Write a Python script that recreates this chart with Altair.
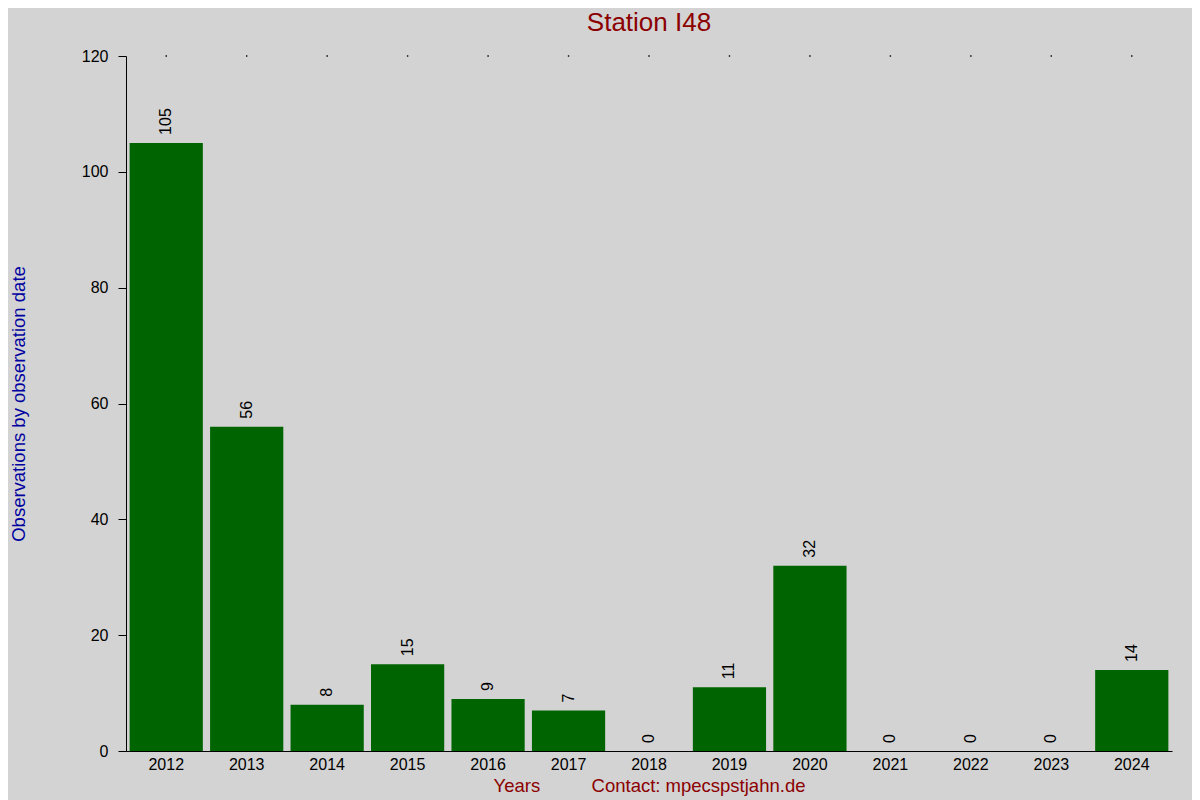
import altair as alt
import pandas as pd

years = ["2012", "2013", "2014", "2015", "2016", "2017", "2018", "2019", "2020", "2021", "2022", "2023", "2024"]
counts = [105, 56, 8, 15, 9, 7, 0, 11, 32, 0, 0, 0, 14]
y_ticks = [0, 20, 40, 60, 80, 100, 120]

df = pd.DataFrame({"year": years, "count": counts})
df["top"] = 120

FONT = "Liberation Sans"
x_title = "Years" + "\u00a0" * 10 + "Contact: mpecspstjahn.de"

x_enc = alt.X("year:N", sort=years,
              scale=alt.Scale(paddingInner=0.09, paddingOuter=0.045),
              axis=alt.Axis(title=x_title, titleColor="#8B0000", titleFont=FONT,
                            titleFontSize=18.5, titleFontWeight="normal", titlePadding=4,
                            labelAngle=0, labelFont=FONT, labelFontSize=16, labelColor="black",
                            labelPadding=5, ticks=False, domainColor="black", domainWidth=1))
y_scale = alt.Scale(domain=[0, 120], nice=False)

bars = alt.Chart(df).mark_bar(color="#006400").encode(
    x=x_enc,
    y=alt.Y("count:Q", scale=y_scale,
            axis=alt.Axis(values=y_ticks, title="Observations by observation date",
                          titleColor="#0000A0", titleFont=FONT, titleFontSize=18.5,
                          titleFontWeight="normal", titleX=-98,
                          labelFont=FONT, labelFontSize=16, labelColor="black",
                          labelPadding=10, tickSize=8, tickColor="black",
                          domainColor="black", grid=False)),
)

labels = alt.Chart(df).mark_text(angle=270, align="left", baseline="middle",
                                 dx=8, font=FONT, fontSize=16, color="black").encode(
    x=alt.X("year:N", sort=years),
    y=alt.Y("count:Q", scale=y_scale),
    text="count:Q",
)

dots = alt.Chart(df).mark_square(size=2, color="black", opacity=1).encode(
    x=alt.X("year:N", sort=years),
    y=alt.Y("top:Q", scale=y_scale),
)

chart = alt.layer(bars, labels, dots).properties(
    width=1046, height=695,
    title=alt.TitleParams("Station I48", color="#8B0000", font=FONT, fontSize=26,
                          fontWeight="normal", offset=12, anchor="middle"),
    autosize=alt.AutoSizeParams(type="none"),
    padding={"left": 118, "top": 48, "right": 20, "bottom": 49},
).configure(background="#D3D3D3").configure_view(stroke=None)

chart.save("out.html", embed_options={"renderer": "svg", "actions": False})
